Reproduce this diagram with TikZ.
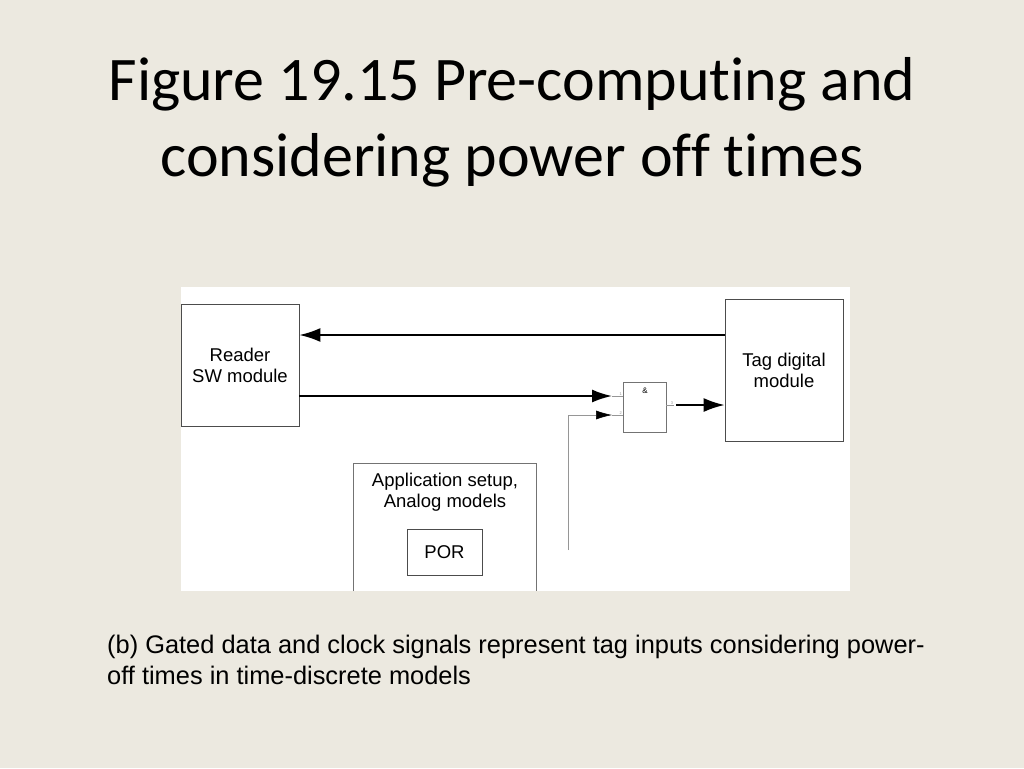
\documentclass[tikz,border=0pt]{standalone}
\usepackage{fontspec}
\setmainfont{Liberation Sans}
\newfontfamily\titlefont[Ligatures=NoCommon]{Carlito}
\usetikzlibrary{arrows.meta, positioning}
\definecolor{slidebg}{RGB}{236,233,224}
\definecolor{pingray}{RGB}{150,150,150}

\begin{document}
\begin{tikzpicture}[x=1pt,y=-1pt]

\tikzset{block/.style = {draw=black!70, fill=white, line width=0.8pt, inner sep=0pt, align=center, font=\fontsize{18.5}{21}\selectfont}}
\tikzset{edge/.style = {-{Latex[length=21pt,width=14pt]}, line width=1.9pt}}
\tikzset{pin/.style = {draw=pingray, line width=0.6pt}}
\tikzset{pinlabel/.style = {font=\fontsize{4}{4}\selectfont, text=pingray, inner sep=0.5pt}}
\tikzset{caption/.style = {anchor=base west, inner sep=0pt, font=\fontsize{25.4}{31}\selectfont}}

\useasboundingbox[fill=slidebg] (0,0) rectangle (1024,768);
\fill[white] (181,287) rectangle (850,591);

%title
\node[anchor=base, font=\titlefont\fontsize{62}{74}\selectfont] (title1) at (512,100) {Figure 19.15 Pre-computing and};
\node[anchor=base, font=\titlefont\fontsize{62}{74}\selectfont] (title2) at (512,176) {considering power off times};

%blocks
\node[block, minimum width=118pt, minimum height=122pt] (reader) at (240,365) {Reader\\SW module};
\node[block, minimum width=118pt, minimum height=142pt] (tag) at (784,370) {Tag digital\\module};
\node[block, draw=black!55, line width=0.6pt, minimum width=43pt, minimum height=50pt] (gate) at (644.5,407) {};
\node[font=\fontsize{8}{8}\selectfont] (amp) at (645,391) {\&};
\node[minimum width=182pt, minimum height=127pt, inner sep=0pt] (app) at (445,527.5) {};
\node[block, draw=none, fill=none, below=9pt of app.north] (apptext) {Application setup,\\Analog models};
\node[block, minimum width=75pt, minimum height=46pt] (por) at (444.5,552) {POR};
\draw[black!55, line width=0.8pt] (app.south west) -- (app.north west) -- (app.north east) -- (app.south east);

%pins
\coordinate (in1) at (612,396);
\coordinate (in2) at (612,415);
\coordinate (out) at (674,405);
\coordinate (clk) at (568,550);
\draw[pin] (in1) -- (gate.west |- in1) node[pinlabel, above left] {1};
\draw[pin] (in2) -- (gate.west |- in2) node[pinlabel, above left] {2};
\draw[pin] (gate.east |- out) -- (out) node[pinlabel, above left] {3};

%edges
\draw[edge] (tag.west |- 0,335) -- (reader.east |- 0,335);
\draw[edge, -{Latex[length=20pt,width=13pt]}] (reader.east |- in1) -- (in1);
\draw[pin, -{Latex[length=16pt,width=9pt,black]}] (clk) |- (in2);
\draw[edge] ([xshift=2pt]out) -- (tag.west |- out);

%caption
\node[caption] (cap1) at (107,653) {(b) Gated data and clock signals represent tag inputs considering power-};
\node[caption] (cap2) at (107,684) {off times in time-discrete models};

\end{tikzpicture}
\end{document}
